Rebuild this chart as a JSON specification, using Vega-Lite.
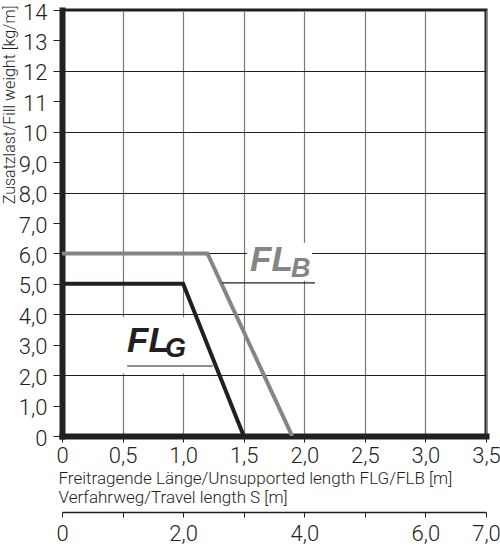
{
  "$schema": "https://vega.github.io/schema/vega-lite/v6.json",
  "width": 424,
  "height": 426,
  "autosize": {"type": "none"},
  "padding": {"left": 62, "top": 10, "right": 14, "bottom": 111},
  "background": "white",
  "config": {
    "view": {"stroke": "#231f20", "strokeWidth": 3},
    "axis": {
      "labelFont": "Roboto",
      "labelFontWeight": 300,
      "titleFont": "Roboto",
      "titleFontWeight": 300,
      "labelColor": "#231f20",
      "titleColor": "#231f20",
      "domainColor": "#231f20",
      "tickColor": "#231f20"
    }
  },
  "datasets": {
    "curves": [
      {"series": "FL_G", "x": 0, "y": 5},
      {"series": "FL_G", "x": 1.0, "y": 5},
      {"series": "FL_G", "x": 1.5, "y": 0},
      {"series": "FL_B", "x": 0, "y": 6},
      {"series": "FL_B", "x": 1.2, "y": 6},
      {"series": "FL_B", "x": 1.9, "y": 0}
    ],
    "labels": [
      {"series": "FL_G", "part": "main", "label": "FL", "x": 0.537, "y": 2.76},
      {"series": "FL_G", "part": "sub", "label": "G", "x": 0.85, "y": 2.596},
      {"series": "FL_B", "part": "main", "label": "FL", "x": 1.552, "y": 5.43},
      {"series": "FL_B", "part": "sub", "label": "B", "x": 1.89, "y": 5.225}
    ],
    "underlines": [
      {"series": "FL_G", "x": 0.537, "x_end": 1.246, "y": 2.3},
      {"series": "FL_B", "x": 1.321, "x_end": 2.088, "y": 5.03}
    ],
    "label_backgrounds": [
      {"series": "FL_G", "x": 0.44, "x_end": 1.08, "y": 2.05, "y_end": 3.9},
      {"series": "FL_B", "x": 1.527, "x_end": 2.064, "y": 5.1, "y_end": 6.35}
    ],
    "travel": [{"s": 0}, {"s": 7}]
  },
  "layer": [
    {
      "encoding": {
        "x": {
          "field": "x",
          "type": "quantitative",
          "scale": {"domain": [0, 3.5], "nice": false, "zero": false},
          "axis": {
            "title": ["Freitragende Länge/Unsupported length FLG/FLB [m]", "Verfahrweg/Travel length S [m]"],
            "values": [0, 0.5, 1, 1.5, 2, 2.5, 3, 3.5],
            "labelExpr": "datum.value == 0 ? '0' : replace(format(datum.value, '.1f'), '.', ',')",
            "labelFlush": false,
            "labelFontSize": 22,
            "labelPadding": 3,
            "tickSize": 6,
            "tickWidth": 1,
            "grid": true,
            "gridColor": "#7a7a7a",
            "gridWidth": 1.2,
            "domainWidth": 6,
            "domainCap": "square",
            "titleFontSize": 17,
            "titleAnchor": "start",
            "titleAlign": "left",
            "titleBaseline": "alphabetic",
            "titleX": -4,
            "titleY": 47,
            "titleLineHeight": 19
          }
        },
        "y": {
          "field": "y",
          "type": "quantitative",
          "scale": {"domain": [0, 14], "nice": false},
          "axis": {
            "title": "Zusatzlast/Fill weight [kg/m]",
            "values": [0, 1, 2, 3, 4, 5, 6, 7, 8, 9, 10, 11, 12, 13, 14],
            "labelExpr": "datum.value == 0 || datum.value >= 10 ? format(datum.value, 'd') : replace(format(datum.value, '.1f'), '.', ',')",
            "labelFontSize": 22,
            "labelPadding": 6,
            "labelOffset": 2,
            "tickSize": 9,
            "tickWidth": 1,
            "grid": true,
            "gridColor": "#231f20",
            "gridWidth": 1.2,
            "gridOpacity": {"condition": {"test": "datum.value % 2 === 0", "value": 1}, "value": 0},
            "domainWidth": 6,
            "domainCap": "square",
            "titleFontSize": 16,
            "titleAngle": -90,
            "titleAlign": "right",
            "titleBaseline": "alphabetic",
            "titleX": -48,
            "titleY": -5
          }
        }
      },
      "layer": [
        {
          "data": {"name": "label_backgrounds"},
          "mark": {"type": "rect", "fill": "white", "stroke": null},
          "encoding": {
            "x2": {"field": "x_end"},
            "y2": {"field": "y_end"}
          }
        },
        {
          "data": {"name": "curves"},
          "mark": {"type": "line", "strokeWidth": 4, "strokeJoin": "miter", "clip": true},
          "encoding": {
            "color": {
              "field": "series",
              "type": "nominal",
              "scale": {"domain": ["FL_G", "FL_B"], "range": ["#231f20", "#858585"]},
              "legend": null
            }
          }
        },
        {
          "data": {"name": "underlines"},
          "mark": {"type": "rule", "strokeWidth": 1.2, "color": "#231f20"},
          "encoding": {
            "x2": {"field": "x_end"}
          }
        },
        {
          "data": {"name": "labels"},
          "transform": [{"filter": "datum.part == 'main'"}],
          "mark": {"type": "text", "font": "Liberation Sans", "fontStyle": "italic", "fontWeight": "bold", "fontSize": 35, "align": "left", "baseline": "alphabetic"},
          "encoding": {
            "text": {"field": "label"},
            "color": {"field": "series", "type": "nominal", "legend": null}
          }
        },
        {
          "data": {"name": "labels"},
          "transform": [{"filter": "datum.part == 'sub'"}],
          "mark": {"type": "text", "font": "Liberation Sans", "fontStyle": "italic", "fontWeight": "bold", "fontSize": 27, "align": "left", "baseline": "alphabetic"},
          "encoding": {
            "text": {"field": "label"},
            "color": {"field": "series", "type": "nominal", "legend": null}
          }
        }
      ]
    },
    {
      "data": {"name": "travel"},
      "mark": {"type": "point", "opacity": 0},
      "encoding": {
        "x": {
          "field": "s",
          "type": "quantitative",
          "scale": {"domain": [0, 7], "nice": false, "zero": false},
          "axis": {
            "orient": "bottom",
            "offset": 76,
            "title": null,
            "grid": false,
            "values": [0, 1, 2, 3, 4, 5, 6, 7],
            "labelExpr": "datum.value == 0 ? '0' : (datum.value % 2 == 0 || datum.value == 7) ? replace(format(datum.value, '.1f'), '.', ',') : ''",
            "labelFlush": false,
            "labelFontSize": 22,
            "labelPadding": 6,
            "tickSize": 5,
            "tickWidth": 1,
            "domainWidth": 1.5
          }
        }
      }
    }
  ],
  "resolve": {"scale": {"x": "independent"}, "axis": {"x": "independent"}}
}
